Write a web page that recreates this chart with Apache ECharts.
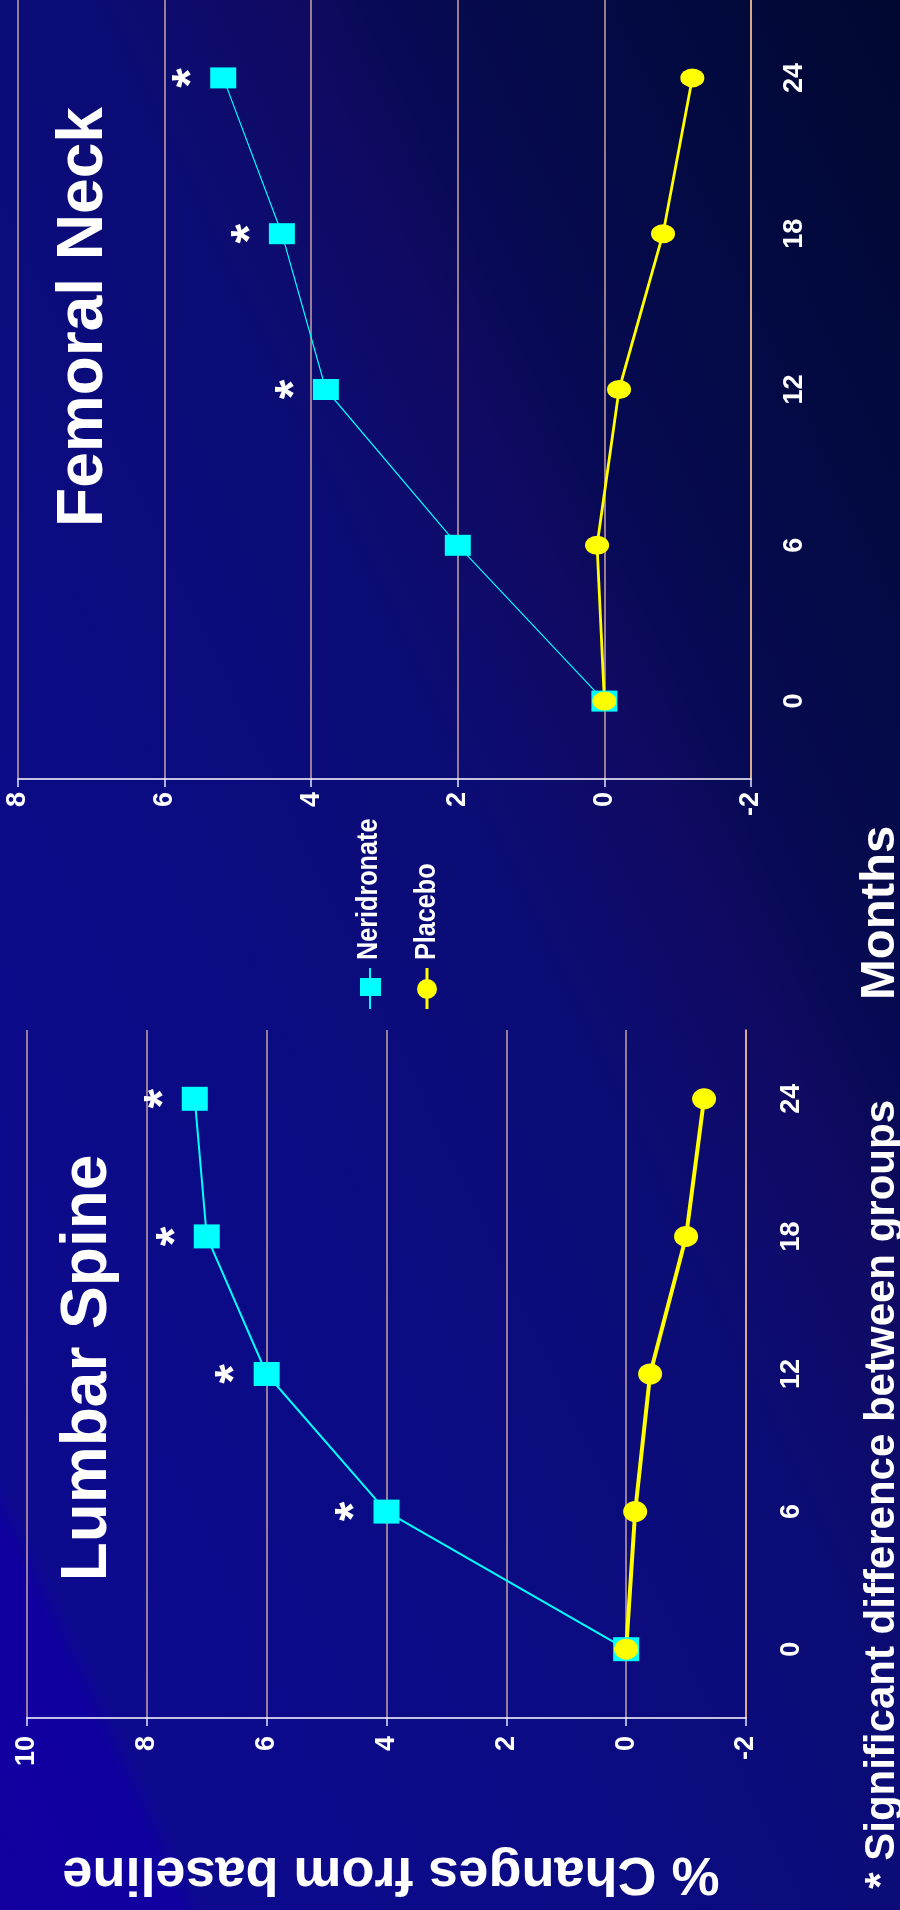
<!DOCTYPE html>
<html lang="en">
<head>
<meta charset="UTF-8">
<title>Neridronate - BMD</title>
<script src="https://cdn.jsdelivr.net/npm/echarts@6/dist/echarts.min.js"></script>
<style>
    html, body { margin: 0; padding: 0; }
    #chart {
        width: 900px; height: 1910px;
        background: linear-gradient(to top right, #13009e 0%, #1000a0 10%, #0d0a8e 11.5%, #0b0b84 35%,
            #0b0c74 55%, #100a62 66%, #070a54 71%, #030a42 85%, #000830 100%);
    }
</style>
</head>
<body>
<div id="chart"></div>
<script>
    // months on the (vertical) category axis
    var months = ['0', '6', '12', '18', '24'];

    // % change from baseline
    var lumbarNeri = [0, 4.0, 6.0, 7.0, 7.2];
    var lumbarPlacebo = [0, -0.15, -0.4, -1.0, -1.3];
    var lumbarSig = [false, true, true, true, true];

    var femoralNeri = [0, 2.0, 3.8, 4.4, 5.2];
    var femoralPlacebo = [0, 0.1, -0.2, -0.8, -1.2];
    var femoralSig = [false, false, true, true, true];

    // value axis ticks
    var lumbarTicks = [-2, 0, 2, 4, 6, 8, 10];
    var femoralTicks = [-2, 0, 2, 4, 6, 8];

    var narrow = "'Liberation Sans Narrow', 'Arial Narrow', 'Liberation Sans', Arial, sans-serif";
    var sans = "'Liberation Sans', Arial, sans-serif";
    var ellipse = 'path://M0,50A50,50 0 1,1 100,50A50,50 0 1,1 0,50Z';

    function valueAxis(gi, ticks, margin) {
        return {
            type: 'value', gridIndex: gi, position: 'bottom', inverse: true,
            min: ticks[0], max: ticks[ticks.length - 1], interval: ticks[1] - ticks[0],
            axisLine: {show: true, lineStyle: {color: '#ffffff', width: 1.5}},
            axisTick: {show: true, length: 8, lineStyle: {color: '#dfe4ff', width: 1.5}},
            axisLabel: {rotate: 90, margin: margin, color: '#ffffff', fontSize: 27, fontWeight: 'bold', fontFamily: narrow},
            splitLine: {show: true, lineStyle: {color: '#c9a4a0', width: 1.5}}
        };
    }

    function monthAxis(gi, margin) {
        return {
            type: 'category', gridIndex: gi, position: 'right', data: months, boundaryGap: true,
            axisLine: {show: true, onZero: false, lineStyle: {color: '#f2b98c', width: 1.5}},
            axisTick: {show: false},
            axisLabel: {rotate: 90, margin: margin, color: '#ffffff', fontSize: 27, fontWeight: 'bold', fontFamily: narrow},
            splitLine: {show: false}
        };
    }

    function starLabel(sig) {
        return {
            show: true, position: 'inside', rotate: 90, offset: [0, -30],
            color: '#ffffff', fontSize: 50, fontWeight: 'bold', fontFamily: sans,
            formatter: function (p) { return sig[p.dataIndex] ? '*' : ''; }
        };
    }

    function rotText(text, x, y, size, align, rot, sx) {
        return {
            type: 'text', x: x, y: y, rotation: rot, scaleX: sx || 1, silent: true,
            style: {
                text: text, fill: '#ffffff', fontSize: size, fontWeight: 'bold', fontFamily: sans,
                align: align, textAlign: align, verticalAlign: 'middle', textVerticalAlign: 'middle'
            }
        };
    }

    var chart = echarts.init(document.getElementById('chart'));
    var option = {
        backgroundColor: 'transparent',
        animation: false,
        grid: [
            {left: 18, right: 149, top: -6, height: 785},
            {left: 27, right: 154, top: 1030, height: 688}
        ],
        xAxis: [valueAxis(0, femoralTicks, 13), valueAxis(1, lumbarTicks, 18)],
        yAxis: [monthAxis(0, 30), monthAxis(1, 32)],
        series: [
            {
                name: 'Neridronate', type: 'line', xAxisIndex: 0, yAxisIndex: 0, data: femoralNeri,
                symbol: 'rect', symbolSize: [26, 21], itemStyle: {color: '#00ffff'},
                lineStyle: {color: '#00ffff', width: 1.2}, label: starLabel(femoralSig)
            },
            {
                name: 'Placebo', type: 'line', xAxisIndex: 0, yAxisIndex: 0, data: femoralPlacebo,
                symbol: ellipse, symbolKeepAspect: false, symbolSize: [24, 19], itemStyle: {color: '#ffff00'},
                lineStyle: {color: '#ffff00', width: 2.8}
            },
            {
                name: 'Neridronate', type: 'line', xAxisIndex: 1, yAxisIndex: 1, data: lumbarNeri,
                symbol: 'rect', symbolSize: [26, 24], itemStyle: {color: '#00ffff'},
                lineStyle: {color: '#00ffff', width: 2}, label: starLabel(lumbarSig)
            },
            {
                name: 'Placebo', type: 'line', xAxisIndex: 1, yAxisIndex: 1, data: lumbarPlacebo,
                symbol: ellipse, symbolKeepAspect: false, symbolSize: [24, 21], itemStyle: {color: '#ffff00'},
                lineStyle: {color: '#ffff00', width: 4}
            }
        ],
        graphic: [
            rotText('Femoral Neck', 84, 317, 64, 'center', Math.PI / 2),
            rotText('Lumbar Spine', 88, 1368, 64, 'center', Math.PI / 2),
            rotText('Months', 880, 1000, 49, 'left', Math.PI / 2),
            rotText('* Significant difference between groups', 882, 1100, 42, 'right', Math.PI / 2),
            rotText('% Changes from baseline', 391, 1873, 54, 'center', Math.PI),
            // legend
            {type: 'line', shape: {x1: 370, y1: 968, x2: 370, y2: 1009}, style: {stroke: '#00ffff', lineWidth: 2}},
            {type: 'rect', shape: {x: 360, y: 978, width: 21, height: 18}, style: {fill: '#00ffff'}},
            rotText('Neridronate', 369, 960, 30, 'left', Math.PI / 2, 0.84),
            {type: 'line', shape: {x1: 427, y1: 968, x2: 427, y2: 1009}, style: {stroke: '#ffff00', lineWidth: 3}},
            {type: 'circle', shape: {cx: 427, cy: 989, r: 10}, style: {fill: '#ffff00'}},
            rotText('Placebo', 427, 960, 30, 'left', Math.PI / 2, 0.84)
        ]
    };
    chart.setOption(option);
</script>
</body>
</html>
